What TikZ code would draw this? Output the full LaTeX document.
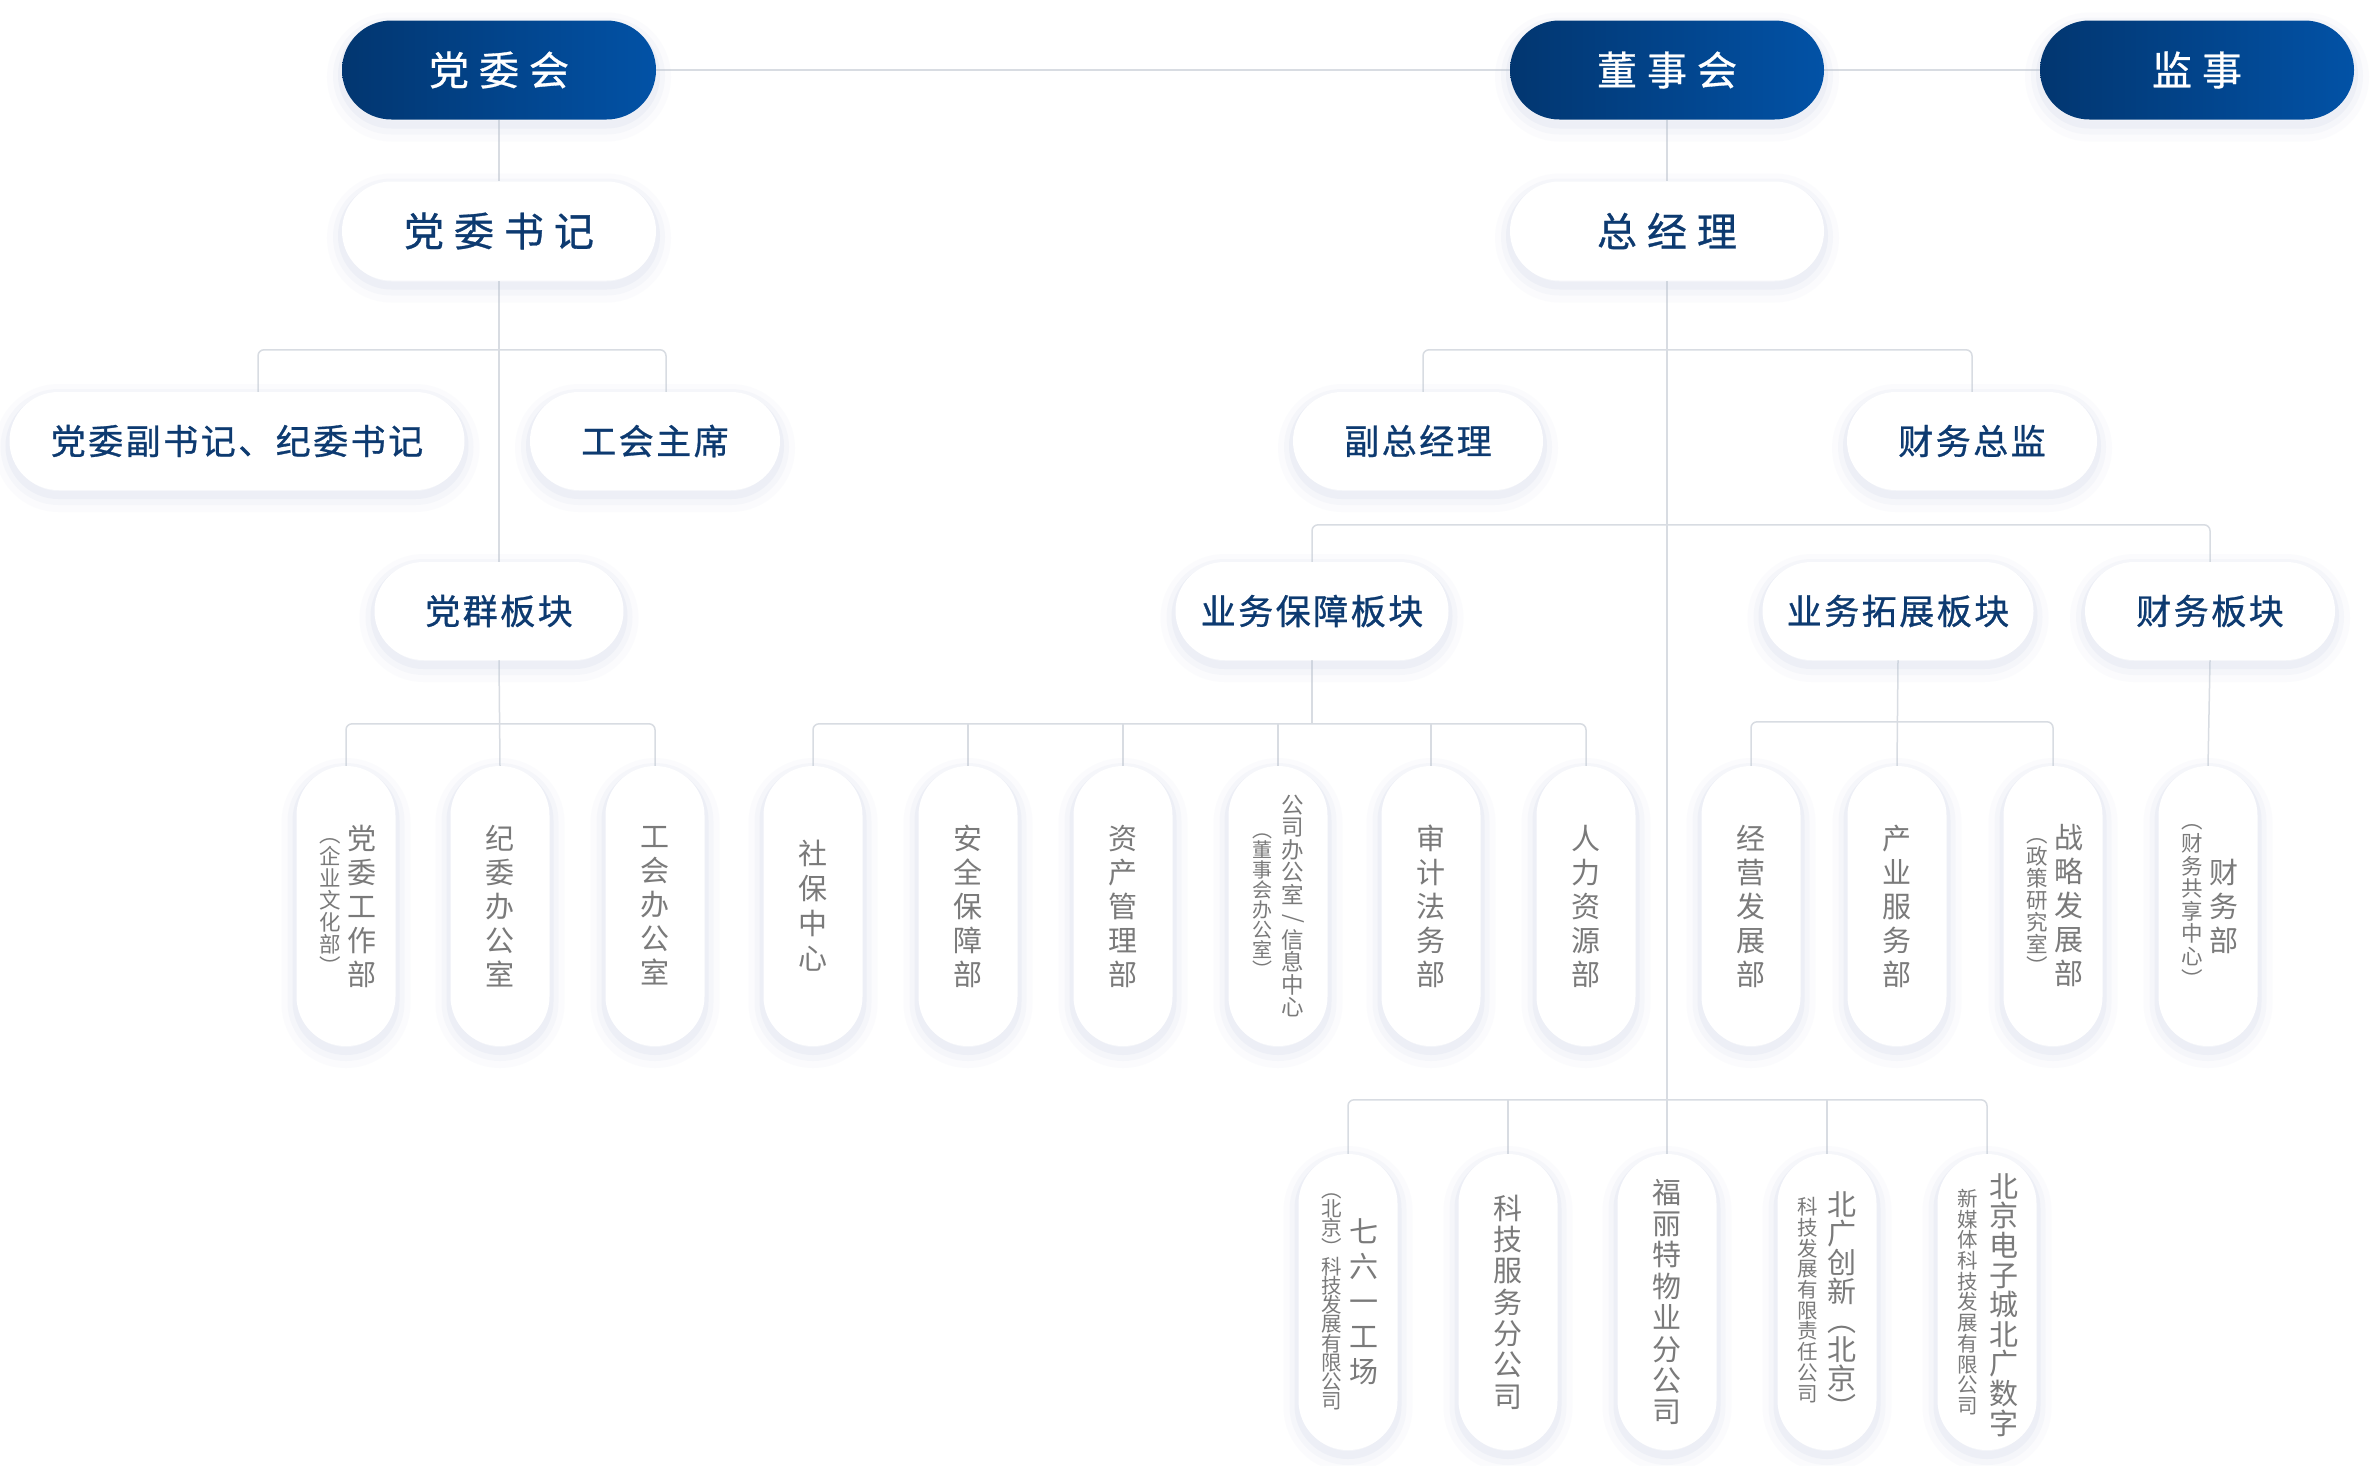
\documentclass[tikz,border=0pt]{standalone}
\usepackage{fontspec}
\usepackage{graphicx}
\setmainfont{Noto Sans CJK SC}
\newfontfamily\cjkmed[FakeBold=0.8]{Noto Sans CJK SC}
\usetikzlibrary{backgrounds,calc}
\definecolor{linec}{HTML}{D8DCE2}
\definecolor{navyL}{HTML}{023670}
\definecolor{navyR}{HTML}{0252A6}
\definecolor{tblue}{HTML}{0D3A70}
\definecolor{tgray}{HTML}{7A7A7A}
\definecolor{shc}{HTML}{B4C2DC}
\makeatletter
\newcommand\trk[2]{\def\trk@g{#1}\@tfor\trk@c:=#2\do{\trk@c\hskip\trk@g\relax}\unskip}
\newcommand\vcol[2]{\vbox{\baselineskip=#1\relax\lineskiplimit=-1000pt\lineskip=0pt\@tfor\vcol@c:=#2\do{\hbox to 40pt{\hss\vcol@c\hss}}}}
\makeatother
\newcommand\vsl{{\rotatebox[origin=c]{-90}{/}}}
\tikzset{
  softshadow/.style={
    preaction={fill=none, shade=false, draw=shc, draw opacity=0.05, line width=30pt, transform canvas={yshift=-7pt}},
    preaction={fill=none, shade=false, draw=shc, draw opacity=0.08, line width=18pt, transform canvas={yshift=-6pt}},
    preaction={fill=none, shade=false, draw=shc, draw opacity=0.12, line width=8pt, transform canvas={yshift=-5pt}}},
  topbox/.style={softshadow, draw=none, left color=navyL, right color=navyR, rounded corners=49.5pt,
    minimum width=314pt, minimum height=99pt, inner sep=0pt, text=white, font=\cjkmed\fontsize{40}{40}\selectfont},
  bigwhite/.style={softshadow, fill=white, rounded corners=49.5pt,
    minimum width=314pt, minimum height=99pt, inner sep=0pt, text=tblue, font=\cjkmed\fontsize{40}{40}\selectfont},
  midbox/.style={softshadow, fill=white, rounded corners=49pt,
    minimum height=98pt, inner sep=0pt, text=tblue, font=\cjkmed\fontsize{35}{35}\selectfont},
  vpill/.style={softshadow, fill=white, rounded corners=49.5pt,
    minimum width=99pt, minimum height=280pt, inner sep=0pt},
  vpillb/.style={vpill, minimum height=296pt},
  vtm/.style={inner sep=0pt, text=tgray, font=\fontsize{29}{29}\selectfont},
  vts/.style={inner sep=0pt, text=tgray, font=\fontsize{21.5}{21.5}\selectfont},
  vtsb/.style={inner sep=0pt, text=tgray, font=\fontsize{20.5}{20.5}\selectfont},
  conn/.style={draw=linec, line width=1.5pt, rounded corners=6pt},
}
\begin{document}
\begin{tikzpicture}[x=1pt,y=-1pt]
\useasboundingbox (0,0) rectangle (2376,1465);
% top level
\node[topbox] (dwh) at (499,70) {\trk{10pt}{党委会}};
\node[topbox] (dsh) at (1667,70) {\trk{10pt}{董事会}};
\node[topbox] (js) at (2197,70) {\trk{10pt}{监事}};
\node[bigwhite] (dwsj) at (499,231) {\trk{10pt}{党委书记}};
\node[bigwhite] (zjl) at (1667,231) {\trk{10pt}{总经理}};
% level 2
\node[midbox, minimum width=455pt] (dfsj) at (237,441) {\trk{2.5pt}{党委副书记、纪委书记}};
\node[midbox, minimum width=250pt] (ghzx) at (655,441) {\trk{2.5pt}{工会主席}};
\node[midbox, minimum width=250pt] (fzjl) at (1418,441) {\trk{2.5pt}{副总经理}};
\node[midbox, minimum width=250pt] (cwzj) at (1972,441) {\trk{2.5pt}{财务总监}};
% level 3
\node[midbox, minimum width=249pt] (dqbk) at (499,611) {\trk{2.5pt}{党群板块}};
\node[midbox, minimum width=273pt] (ywbz) at (1312,611) {\trk{2.5pt}{业务保障板块}};
\node[midbox, minimum width=271pt] (ywtz) at (1898,611) {\trk{2.5pt}{业务拓展板块}};
\node[midbox, minimum width=250pt] (cwbk) at (2210,611) {\trk{2.5pt}{财务板块}};
% level 4
\node[vpill] (p1) at (346,906) {};
\node[vpill] (p2) at (500,906) {};
\node[vpill] (p3) at (655,906) {};
\node[vpill] (p4) at (813,906) {};
\node[vpill] (p5) at (968,906) {};
\node[vpill] (p6) at (1123,906) {};
\node[vpill] (p7) at (1278,906) {};
\node[vpill] (p8) at (1431,906) {};
\node[vpill] (p9) at (1586,906) {};
\node[vpill] (p10) at (1751,906) {};
\node[vpill] (p11) at (1897,906) {};
\node[vpill] (p12) at (2053,906) {};
\node[vpill] (p13) at (2208,906) {};
\node[vtm] (t1a) at ([xshift=16pt]p1.center) {\vcol{34pt}{党委工作部}};
\node[vts] (t1b) at ([xshift=-16pt]p1.center) {\vcol{22pt}{︵企业文化部︶}};
\node[vtm] (t2) at (p2.center) {\vcol{34pt}{纪委办公室}};
\node[vtm] (t3) at (p3.center) {\vcol{34pt}{工会办公室}};
\node[vtm] (t4) at (p4.center) {\vcol{35pt}{社保中心}};
\node[vtm] (t5) at (p5.center) {\vcol{34pt}{安全保障部}};
\node[vtm] (t6) at (p6.center) {\vcol{34pt}{资产管理部}};
\node[vtm, font=\fontsize{22.5}{22.5}\selectfont] (t7a) at ([xshift=15pt]p7.center) {\vcol{22.5pt}{公司办公室\vsl 信息中心}};
\node[vts, font=\fontsize{20}{20}\selectfont] (t7b) at ([xshift=-16pt]p7.center) {\vcol{20pt}{︵董事会办公室︶}};
\node[vtm] (t8) at (p8.center) {\vcol{34pt}{审计法务部}};
\node[vtm] (t9) at (p9.center) {\vcol{34pt}{人力资源部}};
\node[vtm] (t10) at (p10.center) {\vcol{34pt}{经营发展部}};
\node[vtm] (t11) at (p11.center) {\vcol{34pt}{产业服务部}};
\node[vtm] (t12a) at ([xshift=16pt]p12.center) {\vcol{34pt}{战略发展部}};
\node[vts] (t12b) at ([xshift=-16pt]p12.center) {\vcol{22pt}{︵政策研究室︶}};
\node[vtm] (t13a) at ([xshift=16pt]p13.center) {\vcol{34pt}{财务部}};
\node[vts] (t13b) at ([xshift=-16pt]p13.center) {\vcol{22.6pt}{︵财务共享中心︶}};
% level 5
\node[vpillb] (q1) at (1348,1302) {};
\node[vpillb] (q2) at (1508,1302) {};
\node[vpillb] (q3) at (1667,1302) {};
\node[vpillb] (q4) at (1827,1302) {};
\node[vpillb] (q5) at (1987,1302) {};
\node[vtm] (u1a) at ([xshift=16pt]q1.center) {\vcol{35pt}{七六一工场}};
\node[vtsb] (u1b) at ([xshift=-16pt]q1.center) {\vcol{19.2pt}{︵北京︶科技发展有限公司}};
\node[vtm] (u2) at (q2.center) {\vcol{31.3pt}{科技服务分公司}};
\node[vtm] (u3) at (q3.center) {\vcol{31.4pt}{福丽特物业分公司}};
\node[vtm] (u4a) at ([xshift=15pt,yshift=-3pt]q4.center) {\vcol{29pt}{北广创新︵北京︶}};
\node[vtsb] (u4b) at ([xshift=-19pt,yshift=2pt]q4.center) {\vcol{20.7pt}{科技发展有限责任公司}};
\node[vtm] (u5a) at ([xshift=17pt,yshift=-3pt]q5.center) {\vcol{29.6pt}{北京电子城北广数字}};
\node[vtsb] (u5b) at ([xshift=-19pt]q5.center) {\vcol{20.7pt}{新媒体科技发展有限公司}};
\begin{pgfonlayer}{background}
\fill[white] (0,0) rectangle (2376,1465);
% top line
\draw[conn] (dwh.east) -- (dsh.west);
\draw[conn] (dsh.east) -- (js.west);
% party column
\draw[conn] (dwh.south) -- (dwsj.north);
\draw[conn] (dwsj.south) -- (dqbk.north);
\draw[conn] ([xshift=21pt]dfsj.north) -- ++(0,-42) -| ([xshift=11pt]ghzx.north);
\draw[conn] (dqbk.south) -- (p2.north);
\draw[conn] (p1.north) -- ++(0,-42) -| (p3.north);
% management column
\draw[conn] (dsh.south) -- (zjl.north);
\draw[conn] (zjl.south) -- (q3.north);
\draw[conn] ([xshift=5pt]fzjl.north) -- ++(0,-42) -| (cwzj.north);
\draw[conn] (ywbz.north) -- ++(0,-37) -| (cwbk.north);
\draw[conn] (ywbz.south) -- ++(0,64);
\draw[conn] (p4.north) -- ++(0,-42) -| (p9.north);
\draw[conn] (p5.north) -- ++(0,-42);
\draw[conn] (p6.north) -- ++(0,-42);
\draw[conn] (p7.north) -- ++(0,-42);
\draw[conn] (p8.north) -- ++(0,-42);
\draw[conn] (ywtz.south) -- (p11.north);
\draw[conn] (p10.north) -- ++(0,-44) -| (p12.north);
\draw[conn] (cwbk.south) -- (p13.north);
\draw[conn] (q1.north) -- ++(0,-54) -| (q5.north);
\draw[conn] (q2.north) -- ++(0,-54);
\draw[conn] (q4.north) -- ++(0,-54);
\end{pgfonlayer}
\end{tikzpicture}
\end{document}
